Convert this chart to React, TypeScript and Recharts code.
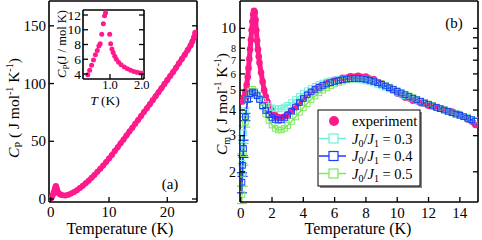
import React from 'react';
import { LineChart, Line, XAxis, YAxis, ErrorBar } from 'recharts';

const FONT = "'Liberation Serif', 'DejaVu Serif', serif";
const PINK = '#ff1a8c';
const CYAN = '#6ff0d6';
const BLUE = '#1a3cff';
const GREEN = '#7ee85e';

// ---------- Panel (a): Cp vs T ----------
const cpMain: [number, number][] = [
  [0.05, 0.5], [0.2, 2], [0.35, 3.5], [0.5, 5.5], [0.6, 7], [0.7, 8.8], [0.8, 10.3], [0.88, 11.2],
  [0.95, 10.3], [1.0, 9.3], [1.1, 7.5], [1.2, 6.2], [1.35, 5], [1.5, 4.3], [1.75, 3.6], [2.0, 3.2],
  [2.5, 3.0], [3.0, 3.6], [3.5, 4.7], [4.0, 6.0], [4.5, 7.6], [5.0, 9.5], [5.5, 11.5], [6.0, 13.6],
  [6.5, 15.9], [7.0, 18.3], [7.5, 20.8], [8.0, 23.5], [8.5, 26.2], [9.0, 29], [9.5, 32], [10, 35],
  [10.5, 38.2], [11, 41.5], [11.5, 44.9], [12, 48.3], [12.5, 51.6], [13, 55], [13.5, 58.4], [14, 61.8],
  [14.5, 65.1], [15, 68.5], [15.5, 71.8], [16, 75.3], [16.5, 78.6], [17, 82], [17.5, 85.5], [18, 89],
  [18.5, 92.5], [19, 96], [19.5, 99.5], [20, 103], [20.5, 106.5], [21, 110], [21.5, 113.7], [22, 117.5],
  [22.5, 121.3], [23, 125], [23.5, 129], [24, 133], [24.3, 136.5], [24.6, 140], [24.8, 144],
];
const aXTicks = [0, 10, 20];
const aYTicks = [0, 50, 100, 150];

// inset
const insetPts: [number, number][] = [
  [0.3, 3.9], [0.36, 4.5], [0.42, 5.2], [0.48, 5.9], [0.54, 6.6], [0.6, 7.2], [0.65, 7.8], [0.69, 8.1],
  [0.74, 9.4], [0.79, 10.8], [0.83, 11.9], [0.86, 12.3], [0.99, 9.4], [1.02, 8.1], [1.06, 7.4],
  [1.1, 6.9], [1.15, 6.4], [1.2, 6.0], [1.27, 5.6], [1.35, 5.25], [1.45, 4.95], [1.55, 4.7],
  [1.65, 4.5], [1.75, 4.35], [1.85, 4.25], [1.95, 4.15], [2.05, 4.1],
];
const inXTicks = [1.0, 2.0];
const inYTicks = [4, 6, 8, 10, 12];

// ---------- Panel (b): Cm vs T ----------
const expPts: [number, number][] = [
  [0.12, 4.4], [0.2, 4.6], [0.3, 4.9], [0.38, 5.3], [0.45, 5.8], [0.5, 6.4], [0.55, 7.1], [0.6, 7.9],
  [0.65, 8.8], [0.7, 9.8], [0.75, 10.8], [0.8, 11.7], [0.85, 12.2], [0.9, 12.0], [0.95, 11.0],
  [1.0, 9.8], [1.05, 8.7], [1.1, 7.9], [1.15, 7.3], [1.2, 6.8], [1.3, 6.1], [1.4, 5.5], [1.5, 5.0],
  [1.6, 4.65], [1.7, 4.4], [1.8, 4.2], [1.9, 4.05], [2.0, 3.93], [2.2, 3.78], [2.4, 3.7], [2.6, 3.68],
  [2.8, 3.72], [3.0, 3.82], [3.25, 3.98], [3.5, 4.15], [3.75, 4.35], [4.0, 4.55], [4.25, 4.75],
  [4.5, 4.92], [4.75, 5.08], [5.0, 5.22], [5.5, 5.45], [6.0, 5.62], [6.5, 5.75], [7.0, 5.84],
  [7.5, 5.87], [8.0, 5.82], [8.5, 5.66], [9.0, 5.4], [9.5, 5.1], [10.0, 4.82], [10.5, 4.6],
  [11.0, 4.44], [11.5, 4.32], [12.0, 4.2], [12.5, 4.1], [13.0, 4.0], [13.5, 3.93], [14.0, 3.82],
  [14.5, 3.6], [15.0, 3.38],
];

const simT = [
  0.08, 0.12, 0.18, 0.3, 0.45, 0.6, 0.75, 0.9, 1.05, 1.2,
  1.4, 1.6, 1.8, 2.0, 2.2, 2.4, 2.6, 2.8,
  3.0, 3.25, 3.5, 3.75, 4.0, 4.25, 4.5, 4.75, 5.0, 5.25, 5.5, 5.75, 6.0, 6.25, 6.5, 6.75,
  7.0, 7.25, 7.5, 7.75, 8.0, 8.25, 8.5, 8.75, 9.0, 9.25, 9.5, 9.75, 10.0, 10.25, 10.5, 10.75,
  11.0, 11.25, 11.5, 11.75, 12.0, 12.25, 12.5, 12.75, 13.0, 13.25, 13.5, 13.75, 14.0, 14.25,
  14.5, 14.75, 15.0,
];
const sim03 = [
  2.2, 2.7, 3.1, 3.9, 4.5, 4.75, 4.82, 4.78, 4.68, 4.55,
  4.4, 4.27, 4.17, 4.1, 4.06, 4.05, 4.08, 4.14,
  4.22, 4.35, 4.5, 4.66, 4.82, 4.97, 5.1, 5.22, 5.33, 5.42, 5.5, 5.56, 5.61, 5.64, 5.66, 5.67,
  5.67, 5.66, 5.63, 5.59, 5.54, 5.48, 5.41, 5.33, 5.24, 5.15, 5.06, 4.97, 4.88, 4.79, 4.7, 4.62,
  4.54, 4.46, 4.39, 4.32, 4.25, 4.18, 4.12, 4.06, 4.0, 3.94, 3.89, 3.83, 3.78, 3.72,
  3.67, 3.61, 3.56,
];
const sim04 = [
  1.78, 2.15, 2.6, 3.7, 4.5, 4.8, 4.9, 4.85, 4.7, 4.5,
  4.2, 3.98, 3.8, 3.68, 3.6, 3.57, 3.58, 3.66,
  3.78, 3.95, 4.14, 4.35, 4.55, 4.74, 4.9, 5.04, 5.16, 5.27, 5.36, 5.44, 5.51, 5.57, 5.62, 5.66,
  5.69, 5.7, 5.7, 5.68, 5.64, 5.58, 5.51, 5.43, 5.34, 5.24, 5.14, 5.04, 4.94, 4.84, 4.75, 4.66,
  4.57, 4.49, 4.41, 4.33, 4.26, 4.19, 4.12, 4.06, 4.0, 3.94, 3.88, 3.82, 3.77, 3.71,
  3.65, 3.59, 3.53,
];
const sim05 = [
  1.55, 1.95, 2.45, 3.5, 4.5, 4.95, 5.05, 4.95, 4.75, 4.55,
  4.15, 3.82, 3.56, 3.38, 3.26, 3.2, 3.2, 3.26,
  3.36, 3.52, 3.7, 3.9, 4.1, 4.3, 4.5, 4.68, 4.85, 5.0, 5.13, 5.25, 5.36, 5.45, 5.53, 5.6,
  5.65, 5.68, 5.7, 5.69, 5.66, 5.61, 5.54, 5.46, 5.37, 5.27, 5.17, 5.07, 4.97, 4.87, 4.78, 4.69,
  4.6, 4.51, 4.43, 4.35, 4.28, 4.21, 4.14, 4.08, 4.02, 3.96, 3.9, 3.84, 3.78, 3.72,
  3.66, 3.6, 3.54,
];
const err03 = [0.25, 0.3, 0.25, 0.2, 0.1];
const err04 = [0.2, 0.25, 0.25, 0.15, 0.1];
const err05 = [0.15, 0.25, 0.3, 0.2, 0.1];
const bXTicks = [0, 2, 4, 6, 8, 10, 12, 14];
const bYTicks = [2, 3, 4, 5, 6, 7, 8, 9, 10];
const bYLabelSize: Record<number, number> = { 2: 14, 3: 14, 4: 14, 5: 12, 6: 11, 7: 10, 8: 10, 9: 0, 10: 15 };

const legendRows = [
  { name: '0.3', color: CYAN },
  { name: '0.4', color: BLUE },
  { name: '0.5', color: GREEN },
];

// ---------- build tables ----------
const toRows = (pts: [number, number][]) => pts.map(([t, v]) => ({ t, v }));
const simRows = (vals: number[], errs: number[]) =>
  simT.map((t, i) => ({ t, v: vals[i], e: i < errs.length ? errs[i] : undefined }));

const cpData = toRows(cpMain);
const inData = toRows(insetPts);
const expData = toRows(expPts);
const d03 = simRows(sim03, err03);
const d04 = simRows(sim04, err04);
const d05 = simRows(sim05, err05);

const txt = { fontFamily: FONT };

// ---------- tick renderers (inward ticks) ----------
const TL = 5;
const leftTick = (edge: number, size: (v: number) => number, fmt: (v: number) => string, gap = 3) => (p: any) => {
  const v = p.payload.value;
  const fs = size(v);
  return (
    <g key={`L${v}`}>
      <line x1={edge} x2={edge + TL} y1={p.y} y2={p.y} stroke="#000" strokeWidth={1.3} />
      {fs > 0 && (
        <text x={edge - gap} y={p.y} dy="0.34em" textAnchor="end" fontSize={fs} style={txt} fill="#000">
          {fmt(v)}
        </text>
      )}
    </g>
  );
};
const rightTick = (edge: number) => (p: any) => (
  <line key={`R${p.payload.value}`} x1={edge - TL} x2={edge} y1={p.y} y2={p.y} stroke="#000" strokeWidth={1.3} />
);
const bottomTick = (edge: number, size: number, fmt: (v: number) => string, base: number) => (p: any) => {
  const v = p.payload.value;
  return (
    <g key={`B${v}`}>
      <line x1={p.x} x2={p.x} y1={edge} y2={edge - TL} stroke="#000" strokeWidth={1.3} />
      <text x={p.x} y={base} textAnchor="middle" fontSize={size} style={txt} fill="#000">
        {fmt(v)}
      </text>
    </g>
  );
};
const topTick = (edge: number) => (p: any) => (
  <line key={`T${p.payload.value}`} x1={p.x} x2={p.x} y1={edge} y2={edge + TL} stroke="#000" strokeWidth={1.3} />
);

const square = (color: string) => (p: any) => (
  <rect key={`s${p.index}`} x={p.cx - 2.8} y={p.cy - 2.8} width={5.6} height={5.6} fill="none" stroke={color} strokeWidth={1} />
);

const axisLine = { stroke: '#000', strokeWidth: 1.6 };

// layout of plot areas
const PA = { l: 49, r: 197, t: 1, b: 202 };
const PI = { l: 83, r: 144, t: 10, b: 79 };
const PB = { l: 240, r: 478, t: 1, b: 202 };

type Box = { l: number; r: number; t: number; b: number };
const marginFor = (p: Box, x0: number, w: number) => ({
  left: p.l - x0 - 1,
  right: x0 + w - p.r - 1,
  top: p.t - 1,
  bottom: 240 - p.b - 1,
});

function PanelA() {
  return (
    <div style={{ position: 'absolute', left: 0, top: 0 }}>
      <LineChart width={241} height={240} margin={marginFor(PA, 0, 241)}>
        <XAxis type="number" dataKey="t" domain={[-0.3, 25.1]} allowDataOverflow ticks={aXTicks} interval={0}
          height={1} axisLine={axisLine} tickLine={false} tick={bottomTick(PA.b, 15, (v) => String(v), 217)} />
        <XAxis xAxisId="top" orientation="top" type="number" domain={[-0.3, 25.1]} allowDataOverflow ticks={aXTicks}
          interval={0} height={1} axisLine={axisLine} tickLine={false} tick={topTick(PA.t)} />
        <YAxis type="number" domain={[-2.6, 171.5]} allowDataOverflow ticks={aYTicks} interval={0} width={1}
          axisLine={axisLine} tickLine={false} tick={leftTick(PA.l, () => 15, (v) => String(v))} />
        <YAxis yAxisId="right" orientation="right" type="number" domain={[-2.6, 171.5]} allowDataOverflow ticks={aYTicks}
          interval={0} width={1} axisLine={axisLine} tickLine={false} tick={rightTick(PA.r)} />
        <Line data={cpData} dataKey="v" stroke={PINK} strokeWidth={5} strokeLinejoin="round"
          dot={{ r: 3, fill: PINK, stroke: 'none' }} isAnimationActive={false} />
      </LineChart>
    </div>
  );
}

function Inset() {
  return (
    <div style={{ position: 'absolute', left: 0, top: 0 }}>
      <LineChart width={241} height={240} margin={marginFor(PI, 0, 241)}>
        <XAxis type="number" dataKey="t" domain={[0.15, 2.07]} allowDataOverflow ticks={inXTicks} interval={0}
          height={1} axisLine={axisLine} tickLine={false} tick={bottomTick(PI.b, 12.5, (v) => v.toFixed(1), 89)} />
        <XAxis xAxisId="top" orientation="top" type="number" domain={[0.15, 2.07]} allowDataOverflow ticks={inXTicks}
          interval={0} height={1} axisLine={axisLine} tickLine={false} tick={topTick(PI.t)} />
        <YAxis type="number" domain={[3.32, 12.68]} allowDataOverflow ticks={inYTicks} interval={0} width={1}
          axisLine={axisLine} tickLine={false} tick={leftTick(PI.l, () => 13.5, (v) => String(v), 2)} />
        <YAxis yAxisId="right" orientation="right" type="number" domain={[3.32, 12.68]} allowDataOverflow ticks={inYTicks}
          interval={0} width={1} axisLine={axisLine} tickLine={false} tick={rightTick(PI.r)} />
        <Line data={inData} dataKey="v" stroke="none" dot={{ r: 2.5, fill: PINK, stroke: 'none' }} isAnimationActive={false} />
      </LineChart>
    </div>
  );
}

function PanelB() {
  const W = 282;
  const X0 = 200;
  return (
    <div style={{ position: 'absolute', left: X0, top: 0 }}>
      <LineChart width={W} height={240} margin={marginFor(PB, X0, W)}>
        <XAxis type="number" dataKey="t" domain={[-0.045, 15.16]} allowDataOverflow ticks={bXTicks} interval={0}
          height={1} axisLine={axisLine} tickLine={false} tick={bottomTick(PB.b, 15, (v) => String(v), 218)} />
        <XAxis xAxisId="top" orientation="top" type="number" domain={[-0.045, 15.16]} allowDataOverflow ticks={bXTicks}
          interval={0} height={1} axisLine={axisLine} tickLine={false} tick={topTick(PB.t)} />
        <YAxis type="number" scale="log" domain={[1.425, 13.6]} allowDataOverflow ticks={bYTicks} interval={0} width={1}
          axisLine={axisLine} tickLine={false}
          tick={leftTick(PB.l - X0, (v) => bYLabelSize[v] ?? 0, (v) => String(v), 4)} />
        <YAxis yAxisId="right" orientation="right" type="number" scale="log" domain={[1.425, 13.6]} allowDataOverflow
          ticks={bYTicks} interval={0} width={1} axisLine={axisLine} tickLine={false} tick={rightTick(PB.r - X0)} />
        <Line data={expData} dataKey="v" stroke={PINK} strokeWidth={5} strokeLinejoin="round"
          dot={{ r: 3.3, fill: PINK, stroke: 'none' }} isAnimationActive={false} />
        <Line data={d03} dataKey="v" stroke={CYAN} strokeWidth={1.5} dot={square(CYAN)} isAnimationActive={false}>
          <ErrorBar dataKey="e" direction="y" width={5} stroke={CYAN} strokeWidth={1.2} />
        </Line>
        <Line data={d05} dataKey="v" stroke={GREEN} strokeWidth={1.5} dot={square(GREEN)} isAnimationActive={false}>
          <ErrorBar dataKey="e" direction="y" width={5} stroke={GREEN} strokeWidth={1.2} />
        </Line>
        <Line data={d04} dataKey="v" stroke={BLUE} strokeWidth={1.5} dot={square(BLUE)} isAnimationActive={false}>
          <ErrorBar dataKey="e" direction="y" width={5} stroke={BLUE} strokeWidth={1.2} />
        </Line>
      </LineChart>
    </div>
  );
}

function Overlay() {
  return (
    <svg width={482} height={240} style={{ position: 'absolute', left: 0, top: 0, pointerEvents: 'none', fontFamily: FONT }}
      fill="#000">
      {/* axis titles */}
      <text x={120} y={234} textAnchor="middle" fontSize={16} style={txt}>Temperature (K)</text>
      <text x={358} y={234} textAnchor="middle" fontSize={16} style={txt}>Temperature (K)</text>
      <text transform="translate(19,108) rotate(-90)" textAnchor="middle" fontSize={15.5} style={txt}>
        <tspan fontStyle="italic">C</tspan>
        <tspan fontSize={10} dy={3}>P</tspan>
        <tspan dy={-3}> ( J mol</tspan>
        <tspan fontSize={10} dy={-6}>-1</tspan>
        <tspan dy={6}> K</tspan>
        <tspan fontSize={10} dy={-6}>-1</tspan>
        <tspan dy={6}>)</tspan>
      </text>
      <text transform="translate(227,104) rotate(-90)" textAnchor="middle" fontSize={15.5} style={txt}>
        <tspan fontStyle="italic">C</tspan>
        <tspan fontSize={10} dy={3}>m</tspan>
        <tspan dy={-3}> ( J mol</tspan>
        <tspan fontSize={10} dy={-6}>-1</tspan>
        <tspan dy={6}> K</tspan>
        <tspan fontSize={10} dy={-6}>-1</tspan>
        <tspan dy={6}>)</tspan>
      </text>
      {/* inset titles */}
      <text transform="translate(66,44) rotate(-90)" textAnchor="middle" fontSize={12.5} style={txt}>
        <tspan fontStyle="italic">C</tspan>
        <tspan fontSize={9} dy={2.5}>P</tspan>
        <tspan dy={-2.5}>(J / mol K)</tspan>
      </text>
      <text x={105} y={105} textAnchor="middle" fontSize={13.5} style={txt}>
        <tspan fontStyle="italic">T</tspan> (K)
      </text>
      {/* panel tags */}
      <text x={170} y={189} textAnchor="middle" fontSize={15} style={txt}>(a)</text>
      <text x={454} y={28} textAnchor="middle" fontSize={15} style={txt}>(b)</text>
      {/* legend */}
      <rect x={320} y={112} width={102} height={76} fill="#888" stroke="none" />
      <rect x={318} y={110} width={102} height={76} fill="#fff" stroke="#000" strokeWidth={1} />
      <circle cx={334} cy={121} r={5} fill={PINK} />
      <text x={352} y={126} fontSize={14.5} style={txt}>experiment</text>
      {legendRows.map((r, i) => {
        const cy = 138.5 + i * 17.5;
        return (
          <g key={r.name}>
            <line x1={319} x2={346} y1={cy} y2={cy} stroke={r.color} strokeWidth={1.5} />
            <rect x={329} y={cy - 4.5} width={9} height={9} fill="#fff" stroke={r.color} strokeWidth={1.2} />
            <text x={352} y={cy + 5} fontSize={14.5} style={txt}>
              <tspan fontStyle="italic">J</tspan>
              <tspan fontSize={10} dy={3}>0</tspan>
              <tspan dy={-3}>/</tspan>
              <tspan fontStyle="italic">J</tspan>
              <tspan fontSize={10} dy={3}>1</tspan>
              <tspan dy={-3}> = {r.name}</tspan>
            </text>
          </g>
        );
      })}
    </svg>
  );
}

export default function App() {
  return (
    <div style={{ position: 'absolute', left: 0, top: 0, width: 482, height: 240, background: '#fff', fontFamily: FONT }}>
      <PanelA />
      <Inset />
      <PanelB />
      <Overlay />
    </div>
  );
}
